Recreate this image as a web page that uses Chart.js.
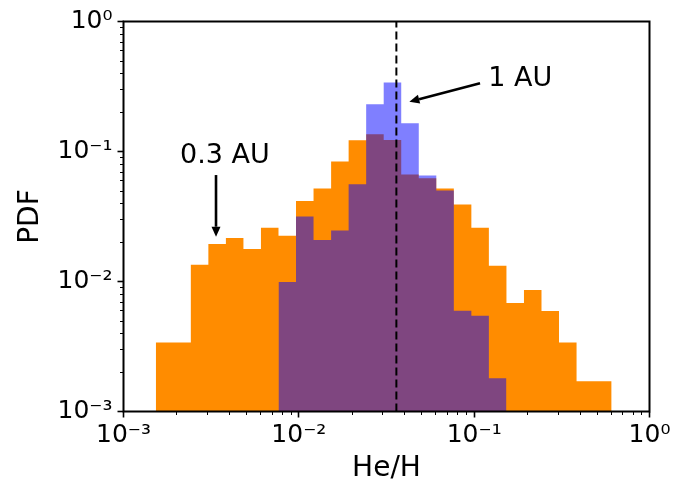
<!DOCTYPE html>
<html lang="en">
<head>
<meta charset="UTF-8">
<title>He/H PDF</title>
<script src="https://cdn.jsdelivr.net/npm/chart.js"></script>
<style>
  html, body { margin: 0; padding: 0; background: #fff; }
  #wrap { width: 690px; height: 483px; }
</style>
</head>
<body>
<div id="wrap"><canvas id="myChart"></canvas></div>
<script>
// log-spaced He/H bin edges shared by both histograms (0.1 dex wide)
const binEdges = [0.001528, 0.001923, 0.002421, 0.003048, 0.003837, 0.004831, 0.006081,
  0.007656, 0.009638, 0.01213, 0.01528, 0.01923, 0.02421, 0.03048, 0.03837, 0.04831,
  0.06081, 0.07656, 0.09638, 0.1213, 0.1528, 0.1923, 0.2421, 0.3048, 0.3837, 0.4831, 0.6081];

// PDF at 0.3 AU (orange), one value per bin
const pdf03AU = [0.00339, 0.00339, 0.01343, 0.01941, 0.02158, 0.01782, 0.02594, 0.02249,
  0.04169, 0.05188, 0.08395, 0.1219, 0.1355, 0.1225, 0.0665, 0.0624, 0.0519, 0.0391,
  0.0259, 0.0132, 0.00682, 0.00861, 0.00593, 0.00339, 0.00171, 0.00171];

// PDF at 1 AU (blue), starts at bin 7
const firstBin1AU = 7;
const pdf1AU = [0.00993, 0.0316, 0.0209, 0.0247, 0.0561, 0.231, 0.340, 0.165, 0.0655,
  0.0501, 0.00596, 0.00546, 0.00180];

// dashed reference line
const heH1AU = 0.036;

const decades = [0.001, 0.01, 0.1, 1];
const decadeLabels = ['10⁻³', '10⁻²', '10⁻¹', '10⁰'];

// histogram as a step line: each point holds the value of the bin to its right
function stepPoints(edges, vals) {
  const pts = vals.map((v, i) => ({x: edges[i], y: v}));
  pts.push({x: edges[vals.length], y: vals[vals.length - 1]});
  return pts;
}

const FONT = 'DejaVu Sans';

// annotations in data coordinates
const notes = [
  {text: '0.3 AU', x: 0.00379, y: 0.0820, from: [0.00337, 0.0659], to: [0.00337, 0.0221]},
  {text: '1 AU', x: 0.183, y: 0.319, from: [0.108, 0.335], to: [0.0427, 0.2415]}
];

const frame = {
  id: 'frame',
  afterDraw(chart) {
    const {ctx, chartArea: a, scales: {x, y}} = chart;
    ctx.save();
    ctx.strokeStyle = '#000';
    // minor ticks
    ctx.lineWidth = 1;
    ctx.beginPath();
    for (let d = 0; d < decades.length - 1; d++) {
      for (let m = 2; m <= 9; m++) {
        const px = Math.round(x.getPixelForValue(m * decades[d])) + 0.5;
        ctx.moveTo(px, a.bottom); ctx.lineTo(px, a.bottom + 3.5);
        const py = Math.round(y.getPixelForValue(m * decades[d])) + 0.5;
        ctx.moveTo(a.left, py); ctx.lineTo(a.left - 3.5, py);
      }
    }
    ctx.stroke();
    // axes box
    ctx.lineWidth = 2;
    ctx.strokeRect(a.left, a.top, a.right - a.left, a.bottom - a.top);

    // arrows + labels
    ctx.fillStyle = '#000';
    ctx.font = '27px "' + FONT + '"';
    ctx.textAlign = 'center';
    ctx.textBaseline = 'alphabetic';
    notes.forEach(n => {
      ctx.fillText(n.text, x.getPixelForValue(n.x), y.getPixelForValue(n.y));
      const x0 = x.getPixelForValue(n.from[0]), y0 = y.getPixelForValue(n.from[1]);
      const x1 = x.getPixelForValue(n.to[0]), y1 = y.getPixelForValue(n.to[1]);
      const ang = Math.atan2(y1 - y0, x1 - x0);
      const hl = 10, hw = 4.5;
      const bx = x1 - hl * Math.cos(ang), by = y1 - hl * Math.sin(ang);
      ctx.lineWidth = 2.6;
      ctx.beginPath();
      ctx.moveTo(x0, y0); ctx.lineTo(bx, by);
      ctx.stroke();
      ctx.beginPath();
      ctx.moveTo(x1, y1);
      ctx.lineTo(bx + hw * Math.sin(ang), by - hw * Math.cos(ang));
      ctx.lineTo(bx - hw * Math.sin(ang), by + hw * Math.cos(ang));
      ctx.closePath();
      ctx.fill();
    });
    ctx.restore();
  }
};

const majorTicks = axis => { axis.ticks = decades.map(v => ({value: v, major: true})); };

const ctx = document.getElementById('myChart').getContext('2d');
new Chart(ctx, {
  type: 'line',
  data: {
    datasets: [
      {
        label: '1 AU line',
        data: [{x: heH1AU, y: 0.001}, {x: heH1AU, y: 1}],
        borderColor: '#000',
        borderWidth: 2,
        borderDash: [8, 4],
        pointRadius: 0,
        fill: false,
        order: 0
      },
      {
        label: '1 AU',
        data: stepPoints(binEdges.slice(firstBin1AU), pdf1AU),
        stepped: true,
        borderWidth: 0,
        pointRadius: 0,
        backgroundColor: 'rgba(0, 0, 255, 0.5)',
        fill: 'start',
        order: 1
      },
      {
        label: '0.3 AU',
        data: stepPoints(binEdges, pdf03AU),
        stepped: true,
        borderWidth: 0,
        pointRadius: 0,
        backgroundColor: '#ff8c00',
        fill: 'start',
        order: 2
      }
    ]
  },
  options: {
    responsive: true,
    maintainAspectRatio: false,
    animation: false,
    layout: {padding: {top: 21.5, right: 40.5, left: 0, bottom: 0}},
    plugins: {legend: {display: false}, tooltip: {enabled: false}},
    scales: {
      x: {
        type: 'logarithmic',
        min: 0.001,
        max: 1,
        afterBuildTicks: majorTicks,
        afterFit: s => { s.height = 71.5; },
        border: {display: false},
        grid: {drawOnChartArea: false, tickLength: 6, tickWidth: 1.6, tickColor: '#000'},
        ticks: {
          autoSkip: false, maxRotation: 0, padding: 5.5, color: '#000',
          font: {family: FONT, size: 25, lineHeight: 1},
          callback: (v, i) => decadeLabels[i]
        },
        title: {display: true, text: 'He/H', color: '#000',
          font: {family: FONT, size: 28, lineHeight: 1}, padding: {top: 1, bottom: 0}}
      },
      y: {
        type: 'logarithmic',
        min: 0.001,
        max: 1,
        afterBuildTicks: majorTicks,
        afterFit: s => { s.width = 123.5; },
        border: {display: false},
        grid: {drawOnChartArea: false, tickLength: 6, tickWidth: 1.6, tickColor: '#000'},
        ticks: {
          autoSkip: false, padding: 5, color: '#000',
          font: {family: FONT, size: 25, lineHeight: 1},
          callback: (v, i) => decadeLabels[i]
        },
        title: {display: true, text: 'PDF', color: '#000',
          font: {family: FONT, size: 28, lineHeight: 1}, padding: {top: 17, bottom: 0}}
      }
    }
  },
  plugins: [frame]
});
</script>
</body>
</html>
